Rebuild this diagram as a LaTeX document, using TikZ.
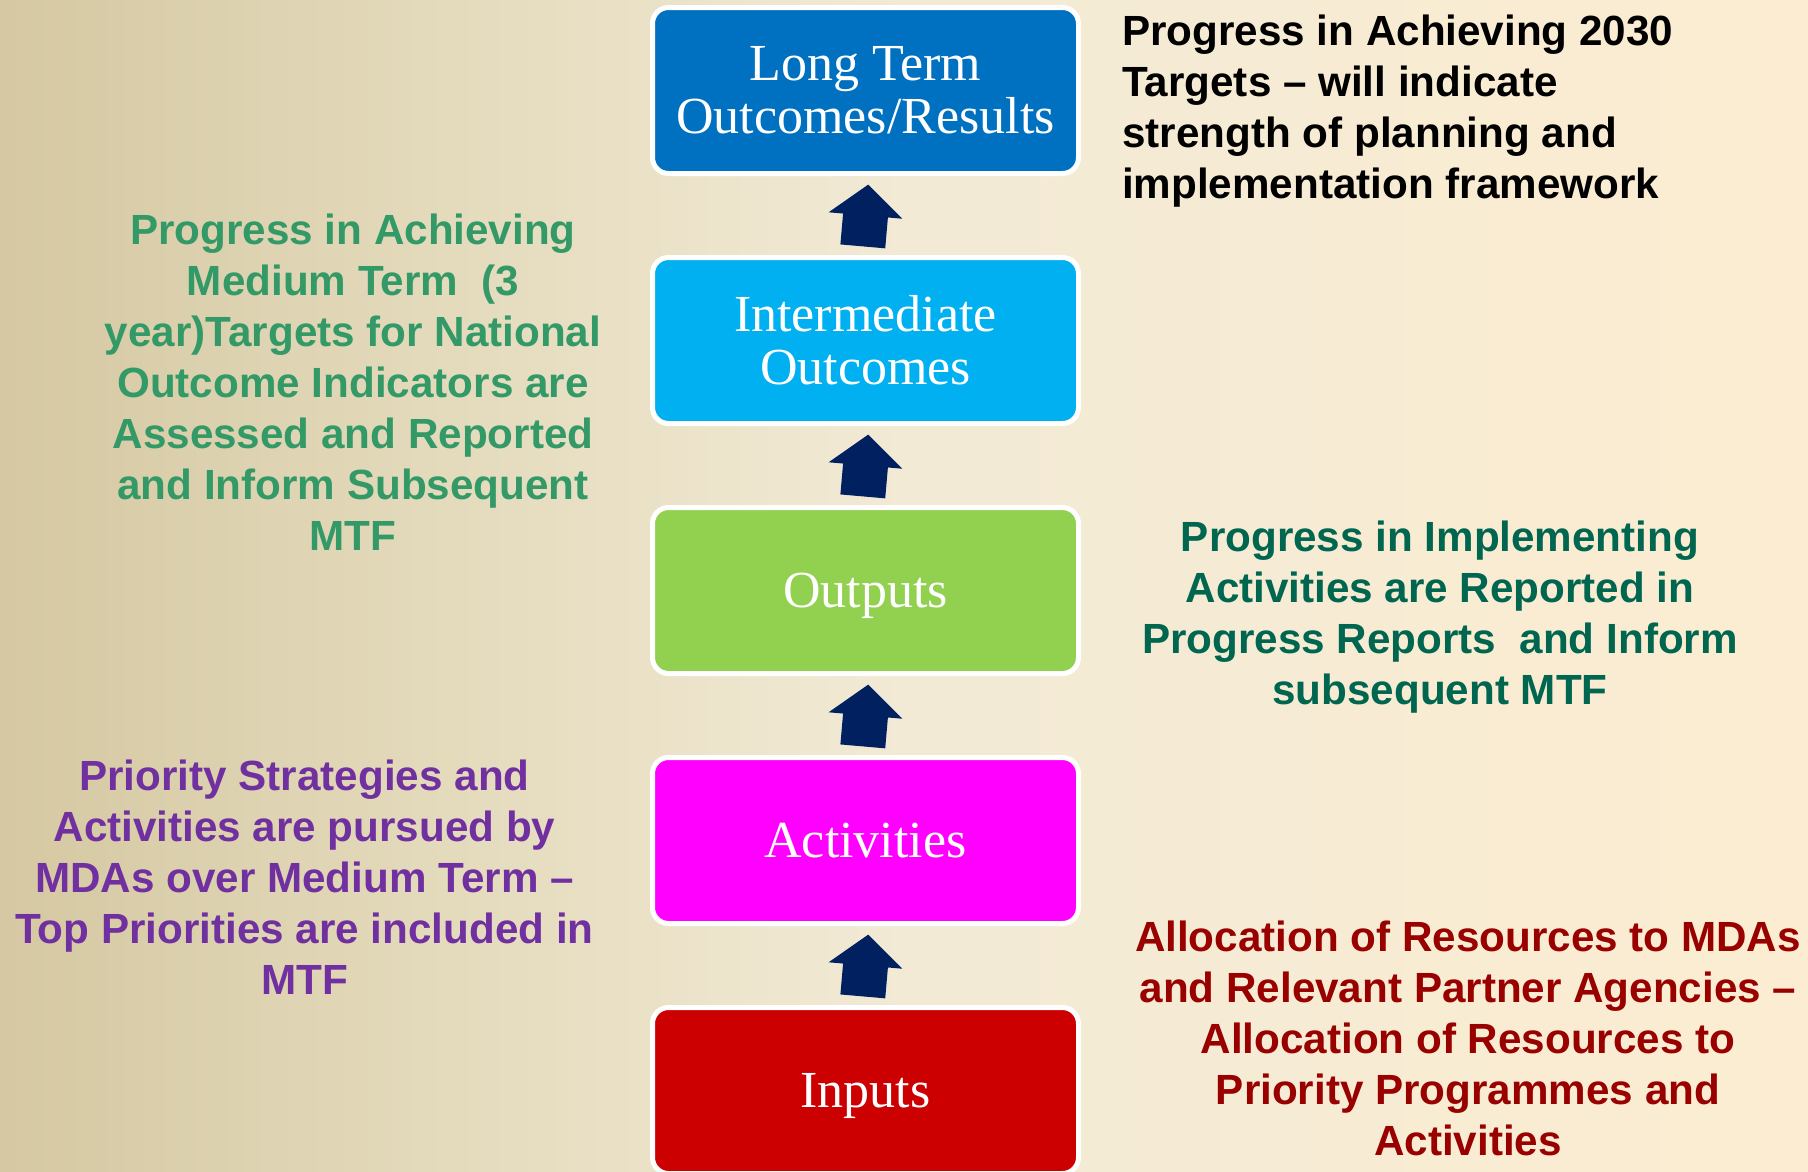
\documentclass[tikz,border=0pt]{standalone}
\usepackage{fontspec}
\usetikzlibrary{calc}
\newfontfamily\labfont{Liberation Sans}
\newfontfamily\boxfont{Liberation Serif}
\definecolor{bgA}{HTML}{D5C8A2}
\definecolor{bgB}{HTML}{E4DBBD}
\definecolor{bgC}{HTML}{F2EAD5}
\definecolor{bgD}{HTML}{FCEDD2}
\definecolor{boxA}{HTML}{0070C0}
\definecolor{boxB}{HTML}{00B0F0}
\definecolor{boxC}{HTML}{92D050}
\definecolor{boxD}{HTML}{FF00FF}
\definecolor{boxE}{HTML}{CC0000}
\definecolor{arrowc}{HTML}{002060}
\definecolor{txtgreen}{HTML}{339966}
\definecolor{txtdkgreen}{HTML}{006650}
\definecolor{txtpurple}{HTML}{7030A0}
\definecolor{txtred}{HTML}{990000}
\pgfdeclarehorizontalshading{bgshade}{100bp}{color(0bp)=(bgA); color(25bp)=(bgA); color(37.5bp)=(bgB); color(50bp)=(bgC); color(75bp)=(bgD); color(100bp)=(bgD)}
\tikzset{
  stagebox/.style={draw=white, line width=5pt, rounded corners=16pt,
    minimum width=426pt, minimum height=166pt, inner sep=0pt,
    text=white, align=center, font=\boxfont\fontsize{52}{53}\selectfont},
  nodepth/.style={text depth=0pt},
  lab/.style={inner sep=0pt, align=center, font=\labfont\bfseries\fontsize{42.2}{51}\selectfont},
  blockarrow/.style={fill=arrowc}
}
\begin{document}
\begin{tikzpicture}[x=1pt, y=-1pt]
\useasboundingbox (0,0) rectangle (1808,1171);
\clip (0,0) rectangle (1808,1171);
\shade[shading=bgshade] (0,0) rectangle (1808,1171);

\node[stagebox, fill=boxA] (b1) at (865.5,90.5) {Long Term\\Outcomes/Results};
\node[stagebox, fill=boxB] (b2) at (865.5,340.5) {Intermediate\\Outcomes};
\node[stagebox, nodepth, fill=boxC] (b3) at (865.5,590.5) {Outputs};
\node[stagebox, fill=boxD] (b4) at (865.5,840.5) {Activities};
\node[stagebox, nodepth, fill=boxE] (b5) at (865.5,1090.5) {Inputs};

\foreach \u/\l [count=\i] in {b2/b1, b3/b2, b4/b3, b5/b4} {
  \coordinate (a\i) at ($(\u.north)!0.5!(\l.south)$);
  \fill[blockarrow, shift={(a\i)}, rotate=-5]
    (0,-31) -- (37,0) -- (22.5,0) -- (22.5,31) -- (-22.5,31) -- (-22.5,0) -- (-37,0) -- cycle;
}

\node[lab, align=left, anchor=base west, text=black] (t0) at (1122,198.5)
  {Progress in Achieving 2030\\Targets – will indicate\\strength of planning and\\implementation framework};

\node[lab, anchor=base, text=txtgreen] (t1) at (353,550)
  {Progress in Achieving\\Medium Term\ \ (3\\year)Targets for National\\Outcome Indicators are\\Assessed and Reported\\and Inform Subsequent\\MTF};

\node[lab, anchor=base, text=txtdkgreen] (t2) at (1440,704)
  {Progress in Implementing\\Activities are Reported in\\Progress Reports\ \ and Inform\\subsequent MTF};

\node[lab, anchor=base, text=txtpurple] (t3) at (304.5,994)
  {Priority Strategies and\\Activities are pursued by\\MDAs over Medium Term –\\Top Priorities are included in\\MTF};

\node[lab, anchor=base, text=txtred] (t4) at (1468,1155.5)
  {Allocation of Resources to MDAs\\and Relevant Partner Agencies –\\Allocation of Resources to\\Priority Programmes and\\Activities};
\end{tikzpicture}
\end{document}
